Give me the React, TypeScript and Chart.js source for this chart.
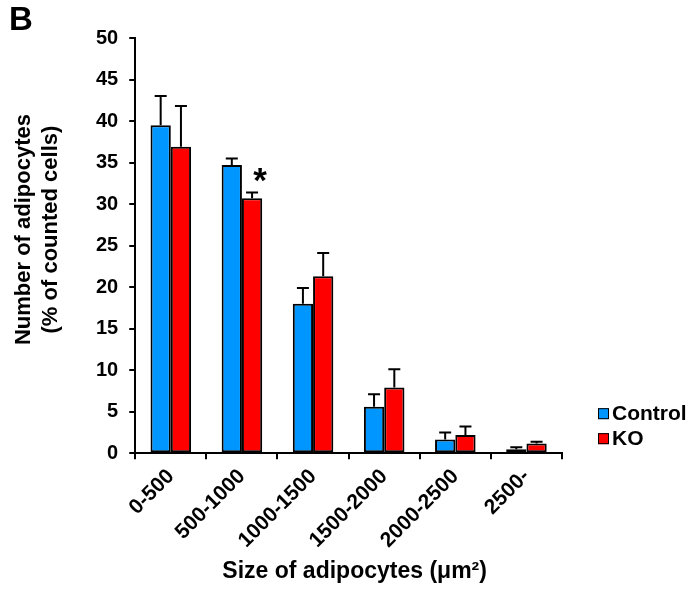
import React, { useEffect, useRef } from "react";
import { Chart, registerables } from "chart.js";

Chart.register(...registerables);

const categories = ["0-500", "500-1000", "1000-1500", "1500-2000", "2000-2500", "2500-"];
const controlValues = [39.5, 34.7, 18.0, 5.6, 1.65, 0.48];
const controlErrors = [3.5, 0.8, 1.9, 1.5, 0.85, 0.22];
const koValues = [36.9, 30.7, 21.3, 7.9, 2.2, 1.17];
const koErrors = [4.9, 0.7, 2.8, 2.2, 1.0, 0.2];
const koSignificance = ["", "*", "", "", "", ""];
const seriesNames = ["Control", "KO"];
const seriesColors = ["#0096FF", "#FF0000"];
const yMin = 0;
const yMax = 50;
const yStep = 5;
const panelLabel = "B";
const yTitle = ["Number of adipocytes", "(% of counted cells)"];
const xTitle = "Size of adipocytes (\u03bcm\u00b2)";

const FONT = "'Liberation Sans', Arial, Helvetica, sans-serif";

const errorBarPlugin = {
  id: "errorBars",
  afterDatasetsDraw(chart: any) {
    const ctx = chart.ctx;
    const yScale = chart.scales.y;
    ctx.save();
    chart.data.datasets.forEach((ds: any, di: number) => {
      const meta = chart.getDatasetMeta(di);
      meta.data.forEach((bar: any, i: number) => {
        const err = ds.errors[i];
        const v = ds.data[i];
        const yTop = yScale.getPixelForValue(v + err);
        const yBar = yScale.getPixelForValue(v);
        ctx.strokeStyle = "#000";
        ctx.lineWidth = 2;
        ctx.beginPath();
        ctx.moveTo(bar.x, yBar);
        ctx.lineTo(bar.x, yTop);
        ctx.moveTo(bar.x - 6, yTop);
        ctx.lineTo(bar.x + 6, yTop);
        ctx.stroke();
        const sig = ds.significance ? ds.significance[i] : "";
        if (sig) {
          ctx.fillStyle = "#000";
          ctx.font = `bold 35px ${FONT}`;
          ctx.textAlign = "center";
          ctx.textBaseline = "alphabetic";
          ctx.fillText(sig, bar.x + 8, yTop);
        }
      });
    });
    ctx.restore();
  },
  afterDraw(chart: any) {
    const ctx = chart.ctx;
    const area = chart.chartArea;
    ctx.save();
    ctx.fillStyle = "#000";
    ctx.font = `bold 33px ${FONT}`;
    ctx.textAlign = "left";
    ctx.textBaseline = "alphabetic";
    ctx.fillText(panelLabel, 9, 30);

    // axis titles
    ctx.textAlign = "center";
    ctx.textBaseline = "middle";
    ctx.font = `bold 23px ${FONT}`;
    ctx.fillText(xTitle, (area.left + area.right) / 2 + 6, area.bottom + 118);

    ctx.save();
    ctx.translate(area.left - 111, (area.top + area.bottom) / 2 - 16);
    ctx.rotate(-Math.PI / 2);
    ctx.font = `bold 22px ${FONT}`;
    yTitle.forEach((line, i) => {
      ctx.fillText(line, 0, i * 27);
    });
    ctx.restore();

    // legend
    const n = chart.data.datasets.length;
    ctx.textAlign = "left";
    ctx.font = `bold 21px ${FONT}`;
    ctx.textBaseline = "middle";
    chart.data.datasets.forEach((ds: any, di: number) => {
      const cy = area.bottom - 15 - (n - 1 - di) * 25;
      const bx = area.right + 36;
      ctx.fillStyle = ds.backgroundColor;
      ctx.fillRect(bx, cy - 5, 11, 11);
      ctx.strokeStyle = "#000";
      ctx.lineWidth = 1;
      ctx.strokeRect(bx + 0.5, cy - 4.5, 10, 10);
      ctx.fillStyle = "#000";
      ctx.fillText(ds.label, bx + 14, cy + 1);
    });
    ctx.restore();
  },
};

export default function App() {
  const ref = useRef<HTMLCanvasElement | null>(null);
  useEffect(() => {
    if (!ref.current) return;
    const chart = new Chart(ref.current, {
      type: "bar",
      data: {
        labels: categories,
        datasets: [
          {
            label: seriesNames[0],
            data: controlValues,
            errors: controlErrors,
            backgroundColor: seriesColors[0],
            borderColor: "#000",
            borderWidth: 2,
            borderSkipped: false,
          } as any,
          {
            label: seriesNames[1],
            data: koValues,
            errors: koErrors,
            significance: koSignificance,
            backgroundColor: seriesColors[1],
            borderColor: "#000",
            borderWidth: 2,
            borderSkipped: false,
          } as any,
        ],
      },
      options: {
        responsive: false,
        animation: false,
        layout: { padding: { left: 85, top: 38, right: 132, bottom: 38 } },
        datasets: { bar: { categoryPercentage: 0.57, barPercentage: 1 } },
        plugins: {
          tooltip: { enabled: false },
          legend: { display: false },
        },
        scales: {
          x: {
            grid: {
              display: true,
              drawOnChartArea: false,
              drawTicks: true,
              tickLength: 6,
              color: "#000",
              lineWidth: 2,
              offset: true,
            },
            border: { display: true, color: "#000", width: 2 },
            ticks: {
              color: "#000",
              font: { family: FONT, size: 21, weight: "bold" },
              minRotation: 45,
              maxRotation: 45,
              padding: 5,
              autoSkip: false,
            },
            title: { display: false },
          },
          y: {
            min: yMin,
            max: yMax,
            grid: {
              display: true,
              drawOnChartArea: false,
              drawTicks: true,
              tickLength: 6,
              color: "#000",
              lineWidth: 2,
            },
            border: { display: true, color: "#000", width: 2 },
            ticks: {
              stepSize: yStep,
              color: "#000",
              font: { family: FONT, size: 20, weight: "bold" },
              padding: 11,
            },
            title: { display: false },
          },
        },
      },
      plugins: [errorBarPlugin],
    } as any);
    return () => chart.destroy();
  }, []);
  return (
    <div style={{ position: "absolute", left: 0, top: 0, width: 694, height: 596, background: "#fff" }}>
      <canvas ref={ref} width={694} height={596} style={{ display: "block", width: 694, height: 596 }} />
    </div>
  );
}
